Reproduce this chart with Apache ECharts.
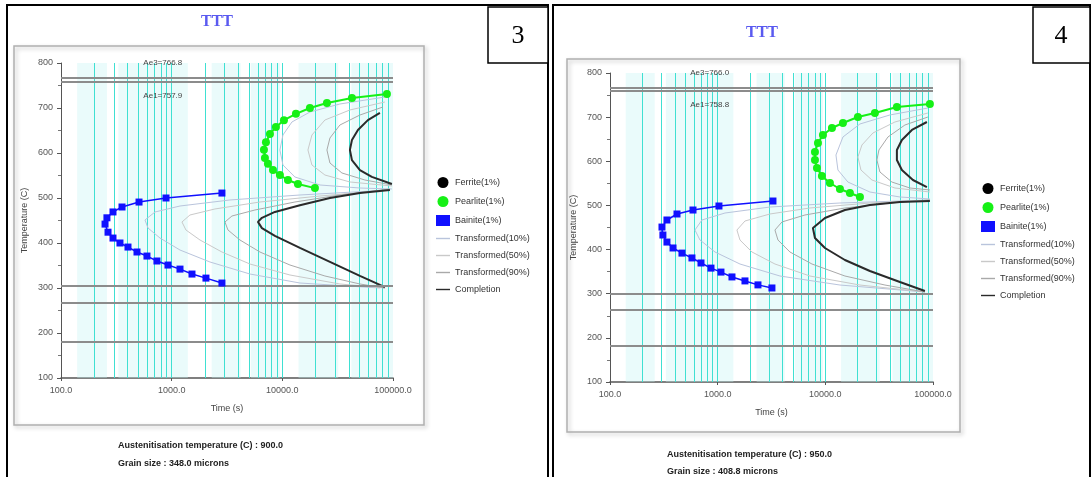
<!DOCTYPE html>
<html><head><meta charset="utf-8">
<script src="https://cdn.jsdelivr.net/npm/echarts@6/dist/echarts.min.js"></script>
<style>html,body{margin:0;padding:0;background:#fff}#c{width:1091px;height:477px}</style>
</head><body><div id="c"></div><script>
// ---------- data (time s, temperature C) ----------
const ferrite = [];
// Panel 3
const p3Pearlite = [[88100,731],[42560,722],[25290,711],[17750,700],[13270,687],[10340,673],[8750,658],[7730,642],[7110,624],[6820,607],[6960,589],[7410,576],[8230,562],[9510,551],[11230,540],[13830,531],[19700,522]];
const p3Bainite = [[2846,511],[889,500],[507,491],[356,480],[295,469],[260,456],[250,442],[266,424],[295,411],[341,400],[403,391],[486,380],[598,371],[736,360],[926,351],[1189,342],[1526,331],[2041,322],[2846,311]];
const p3T10P = [[84520,724.4],[33140,708.9],[17760,691.1],[12210,668.9],[10125,640],[9510,606.7],[10125,573.3],[12995,546.7],[21860,528.9],[50230,522.2],[97730,520]];
const p3T50P = [[84520,713.3],[40800,695.6],[24250,673.3],[18510,640],[17035,606.7],[18510,573.3],[24250,551.1],[40800,535.6],[97730,526.7]];
const p3T90P = [[81050,702.2],[50230,684.4],[33140,662.2],[26920,633.3],[25290,606.7],[26920,577.8],[34550,555.6],[55720,540],[97730,528.9]];
const p3T10B = [[93760,517.8],[14420,506.7],[3363,495.6],[1189,482.2],[707,468.9],[574,451.1],[611,433.3],[784,411.1],[1189,384.4],[2218,357.8],[5096,331.1],[14420,311.1],[76150,300]];
const p3T50B = [[93760,517.8],[21860,504.4],[6276,491.1],[2461,475.6],[1463,462.2],[1239,446.7],[1346,428.9],[1802,406.7],[2846,380],[5096,353.3],[11713,328.9],[33140,308.9],[84520,300]];
const p3T90B = [[93760,520],[33140,506.7],[12995,491.1],[5655,473.3],[3505,460],[3031,446.7],[3226,428.9],[4140,406.7],[6276,380],[11713,351.1],[24250,326.7],[50230,308.9],[84520,300]];
const p3CompP = [[76150,689],[59300,673],[48200,651],[42560,629],[40800,607],[42560,584],[50230,562],[64400,547],[97730,531]];
const p3CompB = [[93760,518],[50230,511],[26920,500],[14420,484],[8570,469],[6540,456],[6020,447],[6540,433],[8570,416],[14420,389],[26920,358],[50230,327],[84520,302]];
const p3Crit = [767, 758, 305, 267, 180];
const p3AeText = ['Ae3=766.8', 'Ae1=757.9'];
const p3Footer = ['Austenitisation temperature (C) : 900.0', 'Grain size : 348.0 microns'];
// Panel 4
const p4Pearlite = [[93550,729.8],[46200,723],[28870,709.4],[20070,700.3],[14570,686.7],[11520,675.4],[9500,659.5],[8540,641.4],[8010,621],[8010,602.9],[8360,584.8],[9300,566.7],[11030,550.8],[13670,537.2],[16920,528.2],[20960,519.1]];
const p4Bainite = [[3262,510],[1028,498.7],[590,489.6],[419,480.6],[338,467],[304,451],[310,433],[338,417],[385,403.6],[466,392],[577,381],[700,369.6],[867,358],[1073,349],[1358,338],[1793,329],[2367,320],[3192,313]];
const p4T10P = [[89700,720.7],[39800,704.9],[20960,684.5],[14570,655],[12550,614.2],[13090,580.3],[16210,553],[25940,530.4],[49280,519.1],[93550,514.6]];
const p4T50P = [[89700,709.4],[44290,689],[27670,664.1],[21870,636.9],[20070,609.7],[21410,580.3],[27080,557.6],[44290,539.5],[93550,530.4]];
const p4T90P = [[89700,700.3],[54830,682.2],[38140,655],[31460,625.6],[30130,602.9],[32140,575.7],[41540,553],[61020,539.5],[93550,535]];
const p4T10B = [[93550,512.3],[13670,505.5],[3059,496.4],[1169,482.8],[715,467],[615,444.3],[685,421.7],[944,394.5],[1611,367.3],[3788,340.1],[13670,319.7],[84100,303.9]];
const p4T50B = [[93550,512.3],[25940,505.5],[7190,494.2],[3059,480.6],[1793,464.7],[1510,444.3],[1611,421.7],[2083,394.5],[3404,367.3],[7190,340.1],[20960,319.7],[84100,303.9]];
const p4T90B = [[93550,512.3],[39800,505.5],[15200,494.2],[6466,478.3],[3954,462.5],[3404,444.3],[3631,421.7],[4692,394.5],[7510,367.3],[15200,340.1],[35760,319.7],[84100,303.9]];
const p4CompP = [[87750,689],[63700,670.9],[51400,648.2],[46200,625.6],[46200,602.9],[51400,580.3],[65100,557.6],[87750,541.7]];
const p4CompB = [[93550,510],[49280,507.8],[25940,501],[15200,489.6],[9920,471.5],[7670,448.9],[8010,426.2],[9920,403.6],[15200,376.4],[25940,351.5],[49280,326.5],[84100,306.1]];
const p4Crit = [766, 759, 301, 263, 181];
const p4AeText = ['Ae3=766.0', 'Ae1=758.8'];
const p4Footer = ['Austenitisation temperature (C) : 950.0', 'Grain size : 408.8 microns'];
// grid helpers
const gridTimes = [200,300,400,500,600,700,800,900,1000,2000,3000,4000,5000,6000,7000,8000,9000,10000,20000,30000,40000,50000,60000,70000,80000,90000];
const tintBands = [[140,260],[330,1400],[2300,4200],[5200,9500],[14000,32000],[42000,100000]];
const tempTicks = [100, 800, 100]; // min, max, interval
const timeRange = [100, 100000];
const names = ['Ferrite(1%)','Pearlite(1%)','Bainite(1%)','Transformed(10%)','Transformed(50%)','Transformed(90%)','Completion'];

const FONT = 'Liberation Sans';
const chart = echarts.init(document.getElementById('c'), null, {renderer:'canvas'});

const colors = {ferrite:'#000', pearlite:'#16f016', bainite:'#1010ff', t10:'#b9c4dc', t50:'#c9c9c9', t90:'#a9a9a9', comp:'#2a2a2a'};
const GRIDC = '#3fe0d2';

function panelSeries(g, d) {
  const base = {xAxisIndex:g, yAxisIndex:g, type:'line', animation:false, silent:true};
  const line = (name, data, color, w) => Object.assign({}, base, {name, data, symbol:'none', lineStyle:{color, width:w}, itemStyle:{color}, z:3});
  return [
    Object.assign({}, base, {name:'tint'+g, data:[], z:0,
      markArea:{silent:true, animation:false, itemStyle:{color:'rgba(195,243,243,0.35)'},
        data: tintBands.map(b => [{xAxis:b[0]}, {xAxis:b[1]}])}}),
    {type:'lines', name:'grid'+g, coordinateSystem:'cartesian2d', xAxisIndex:g, yAxisIndex:g, silent:true, animation:false, z:1,
      lineStyle:{color:GRIDC, width:1, opacity:1, curveness:0},
      data: gridTimes.map(v => ({coords:[[v, tempTicks[1]], [v, tempTicks[0]]]}))},
    Object.assign({}, base, {name:'crit'+g, data:[], z:2,
      markLine:{silent:true, symbol:'none', animation:false, label:{show:false},
        lineStyle:{color:'#8c8c8c', width:2, type:'solid'},
        data: d.crit.map(v => ({yAxis:v}))},
      markPoint:{silent:true, symbol:'circle', symbolSize:0, animation:false,
        label:{show:true, position:'right', color:'#444', fontSize:8, fontFamily:FONT},
        data:[{coord:[500, 800], value:d.ae[0]}, {coord:[500, 727], value:d.ae[1]}].map(o => Object.assign(o, {label:{formatter:o.value}}))}}),
    Object.assign({}, base, {name:'Ferrite(1%)', data:ferrite, symbol:'circle', symbolSize:8, itemStyle:{color:colors.ferrite}, lineStyle:{color:colors.ferrite}}),
    line('Transformed(10%)', d.t10p, colors.t10, 1), line('Transformed(10%)', d.t10b, colors.t10, 1),
    line('Transformed(50%)', d.t50p, colors.t50, 1), line('Transformed(50%)', d.t50b, colors.t50, 1),
    line('Transformed(90%)', d.t90p, colors.t90, 1), line('Transformed(90%)', d.t90b, colors.t90, 1),
    line('Completion', d.cp, colors.comp, 2), line('Completion', d.cb, colors.comp, 2),
    Object.assign({}, base, {name:'Pearlite(1%)', data:d.pearlite, symbol:'circle', symbolSize:8, showAllSymbol:true, z:5,
      itemStyle:{color:colors.pearlite}, lineStyle:{color:colors.pearlite, width:2}}),
    Object.assign({}, base, {name:'Bainite(1%)', data:d.bainite, symbol:'rect', symbolSize:7, showAllSymbol:true, z:5,
      itemStyle:{color:colors.bainite}, lineStyle:{color:colors.bainite, width:1.5}})
  ];
}

function xAx(g) {
  return {type:'log', logBase:10, min:timeRange[0], max:timeRange[1], gridIndex:g,
    name:'Time (s)', nameLocation:'middle', nameGap:26, nameTextStyle:{color:'#444', fontSize:9, fontFamily:FONT},
    axisLine:{lineStyle:{color:'#555', width:1.5}}, axisTick:{length:3, lineStyle:{color:'#555'}},
    minorTick:{show:false}, splitLine:{show:false}, minorSplitLine:{show:false},
    axisLabel:{color:'#555', fontSize:9, fontFamily:FONT, formatter:v => Number(v).toFixed(1)}};
}
function yAx(g) {
  return {type:'value', min:tempTicks[0], max:tempTicks[1], interval:tempTicks[2], gridIndex:g,
    name:'Temperature (C)', nameLocation:'middle', nameGap:32, nameRotate:90,
    nameTextStyle:{color:'#444', fontSize:9, fontFamily:FONT},
    axisLine:{show:true, lineStyle:{color:'#555', width:1}}, axisTick:{show:true, length:4, lineStyle:{color:'#555'}},
    minorTick:{show:true, splitNumber:2, length:3, lineStyle:{color:'#777'}},
    splitLine:{show:false},
    axisLabel:{color:'#555', fontSize:9, fontFamily:FONT}};
}
const LINE_ICON = 'path://M0,0H16V1.6H0Z';
function legend(left, top) {
  return {orient:'vertical', left, top, itemGap:8, itemWidth:14, itemHeight:11,
    textStyle:{color:'#333', fontSize:9, fontFamily:FONT}, selectedMode:false,
    data:[
      {name:names[0], icon:'circle'}, {name:names[1], icon:'circle'}, {name:names[2], icon:'rect'},
      {name:names[3], icon:LINE_ICON}, {name:names[4], icon:LINE_ICON}, {name:names[5], icon:LINE_ICON}, {name:names[6], icon:LINE_ICON}]};
}

const d3 = {crit:p3Crit, ae:p3AeText, pearlite:p3Pearlite, bainite:p3Bainite, t10p:p3T10P, t50p:p3T50P, t90p:p3T90P, t10b:p3T10B, t50b:p3T50B, t90b:p3T90B, cp:p3CompP, cb:p3CompB};
const d4 = {crit:p4Crit, ae:p4AeText, pearlite:p4Pearlite, bainite:p4Bainite, t10p:p4T10P, t50p:p4T50P, t90p:p4T90P, t10b:p4T10B, t50b:p4T50B, t90b:p4T90B, cp:p4CompP, cb:p4CompB};

const frameShadow = {shadowBlur:4, shadowColor:'rgba(0,0,0,0.25)', shadowOffsetX:2, shadowOffsetY:2};
const txt = (x, y, s, extra) => ({type:'text', x, y, style:Object.assign({text:s, fill:'#222', font:'bold 9px "'+FONT+'"'}, extra||{})});

chart.setOption({
  animation:false,
  backgroundColor:'#fff',
  grid:[
    {left:61, right:1091-393, top:63, bottom:477-378},
    {left:610, right:1091-933, top:73, bottom:477-382}
  ],
  xAxis:[xAx(0), xAx(1)],
  yAxis:[yAx(0), yAx(1)],
  legend:[legend(431, 172), legend(976, 178)],
  graphic:[
    {type:'rect', shape:{x:14, y:46, width:410, height:379}, style:Object.assign({fill:'none', stroke:'#b0b0b0', lineWidth:1.5}, frameShadow), z:-1},
    {type:'rect', shape:{x:567, y:59, width:393, height:373}, style:Object.assign({fill:'none', stroke:'#b0b0b0', lineWidth:1.5}, frameShadow), z:-1},
    {type:'rect', shape:{x:7, y:5, width:541, height:480}, style:{fill:'none', stroke:'#000', lineWidth:2}},
    {type:'rect', shape:{x:553, y:5, width:537, height:480}, style:{fill:'none', stroke:'#000', lineWidth:2}},
    {type:'rect', shape:{x:488, y:7, width:60, height:56}, style:{fill:'#fff', stroke:'#000', lineWidth:1.5}},
    {type:'rect', shape:{x:1033, y:7, width:57, height:56}, style:{fill:'#fff', stroke:'#000', lineWidth:1.5}},
    txt(518, 36, '3', {font:'26px "Liberation Serif"', fill:'#000', textAlign:'center', textVerticalAlign:'middle'}),
    txt(1061, 36, '4', {font:'26px "Liberation Serif"', fill:'#000', textAlign:'center', textVerticalAlign:'middle'}),
    txt(217, 22, 'TTT', {font:'bold 16px "Liberation Serif"', fill:'#5a5af0', textAlign:'center', textVerticalAlign:'middle'}),
    txt(762, 33, 'TTT', {font:'bold 16px "Liberation Serif"', fill:'#5a5af0', textAlign:'center', textVerticalAlign:'middle'}),
    txt(118, 441, p3Footer[0]), txt(118, 459, p3Footer[1]),
    txt(667, 450, p4Footer[0]), txt(667, 467, p4Footer[1])
  ],
  series:[].concat(panelSeries(0, d3), panelSeries(1, d4))
});
</script></body></html>
